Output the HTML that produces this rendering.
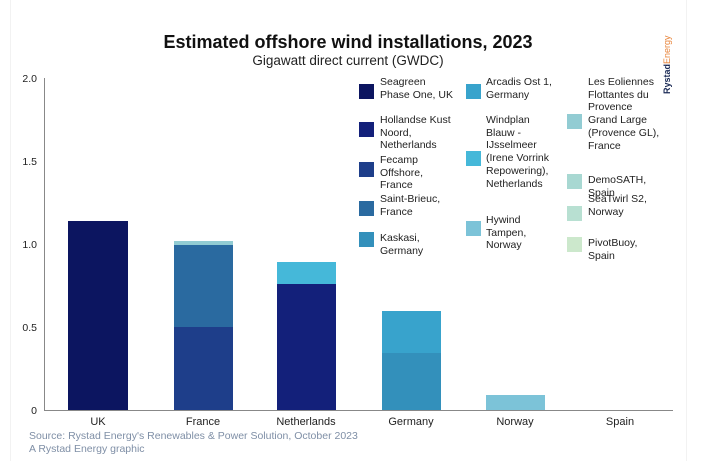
<!DOCTYPE html>
<html><head><style>
body{margin:0;width:722px;height:461px;background:#fff;overflow:hidden;font-family:"Liberation Sans",sans-serif;}
.t{position:absolute;white-space:nowrap;}
.lg{position:absolute;font-size:10.5px;line-height:12.7px;color:#222;}
.sw{position:absolute;width:15px;height:15px;}
</style></head><body>
<div style="position:absolute;left:10px;top:0;width:675px;height:461px;border-left:1px solid #f2f2f2;border-right:1px solid #f2f2f2;"></div>
<div class="t" style="left:0;width:696px;text-align:center;top:32px;font-size:18px;font-weight:bold;color:#111;">Estimated offshore wind installations, 2023</div>
<div class="t" style="left:0;width:696px;text-align:center;top:53px;font-size:13.5px;color:#222;">Gigawatt direct current (GWDC)</div>
<div class="t" style="left:662px;top:94px;transform:rotate(-90deg);transform-origin:0 0;font-size:9px;"><b style="color:#1a2a55">Rystad</b><span style="color:#e8843a">Energy</span></div>
<svg width="722" height="461" style="position:absolute;left:0;top:0">
<g font-family="Liberation Sans" font-size="10.5" fill="#222" text-anchor="end">
<text x="37" y="82">2.0</text><text x="37" y="165">1.5</text><text x="37" y="248">1.0</text><text x="37" y="331">0.5</text><text x="37" y="414">0</text>
</g>
<line x1="44.5" y1="78" x2="44.5" y2="410" stroke="#888"/>
<line x1="44" y1="410.5" x2="673" y2="410.5" stroke="#888"/>
<rect x="68" y="221" width="60" height="189" fill="#0c1560"/>
<rect x="174" y="327" width="59" height="83" fill="#1e3e8a"/>
<rect x="174" y="245" width="59" height="82" fill="#2a6aa0"/>
<rect x="174" y="241" width="59" height="4" fill="#92ccd3"/>
<rect x="277" y="284" width="59" height="126" fill="#13207a"/>
<rect x="277" y="262" width="59" height="22" fill="#45b8d9"/>
<rect x="382" y="353" width="59" height="57" fill="#3390bb"/>
<rect x="382" y="311" width="59" height="42" fill="#38a3cc"/>
<rect x="486" y="395" width="59" height="15" fill="#7cc3d8"/>
<g font-family="Liberation Sans" font-size="11" fill="#222" text-anchor="middle">
<text x="98" y="425">UK</text><text x="203" y="425">France</text><text x="306" y="425">Netherlands</text><text x="411" y="425">Germany</text><text x="515" y="425">Norway</text><text x="620" y="425">Spain</text>
</g>
</svg>
<div class="sw" style="left:359px;top:84px;background:#0c1560"></div>
<div class="lg" style="left:380px;top:76px">Seagreen<br>Phase One, UK</div>
<div class="sw" style="left:359px;top:122px;background:#13207a"></div>
<div class="lg" style="left:380px;top:114px">Hollandse Kust<br>Noord,<br>Netherlands</div>
<div class="sw" style="left:359px;top:162px;background:#1e3e8a"></div>
<div class="lg" style="left:380px;top:154px">Fecamp<br>Offshore,<br>France</div>
<div class="sw" style="left:359px;top:201px;background:#2a6aa0"></div>
<div class="lg" style="left:380px;top:193px">Saint-Brieuc,<br>France</div>
<div class="sw" style="left:359px;top:232px;background:#3390bb"></div>
<div class="lg" style="left:380px;top:232px">Kaskasi,<br>Germany</div>
<div class="sw" style="left:466px;top:84px;background:#38a3cc"></div>
<div class="lg" style="left:486px;top:76px">Arcadis Ost 1,<br>Germany</div>
<div class="sw" style="left:466px;top:151px;background:#45b8d9"></div>
<div class="lg" style="left:486px;top:114px">Windplan<br>Blauw -<br>IJsselmeer<br>(Irene Vorrink<br>Repowering),<br>Netherlands</div>
<div class="sw" style="left:466px;top:221px;background:#7cc3d8"></div>
<div class="lg" style="left:486px;top:214px">Hywind<br>Tampen,<br>Norway</div>
<div class="sw" style="left:567px;top:114px;background:#92ccd3"></div>
<div class="lg" style="left:588px;top:76px">Les Eoliennes<br>Flottantes du<br>Provence<br>Grand Large<br>(Provence GL),<br>France</div>
<div class="sw" style="left:567px;top:174px;background:#a8d8d2"></div>
<div class="lg" style="left:588px;top:174px">DemoSATH,<br>Spain</div>
<div class="sw" style="left:567px;top:206px;background:#b8e0d2"></div>
<div class="lg" style="left:588px;top:193px">SeaTwirl S2,<br>Norway</div>
<div class="sw" style="left:567px;top:237px;background:#cce8cc"></div>
<div class="lg" style="left:588px;top:237px">PivotBuoy,<br>Spain</div>
<div class="t" style="left:29px;top:430px;font-size:10.5px;color:#7f8fa6;line-height:13px">Source: Rystad Energy's Renewables &amp; Power Solution, October 2023<br>A Rystad Energy graphic</div>
</body></html>
